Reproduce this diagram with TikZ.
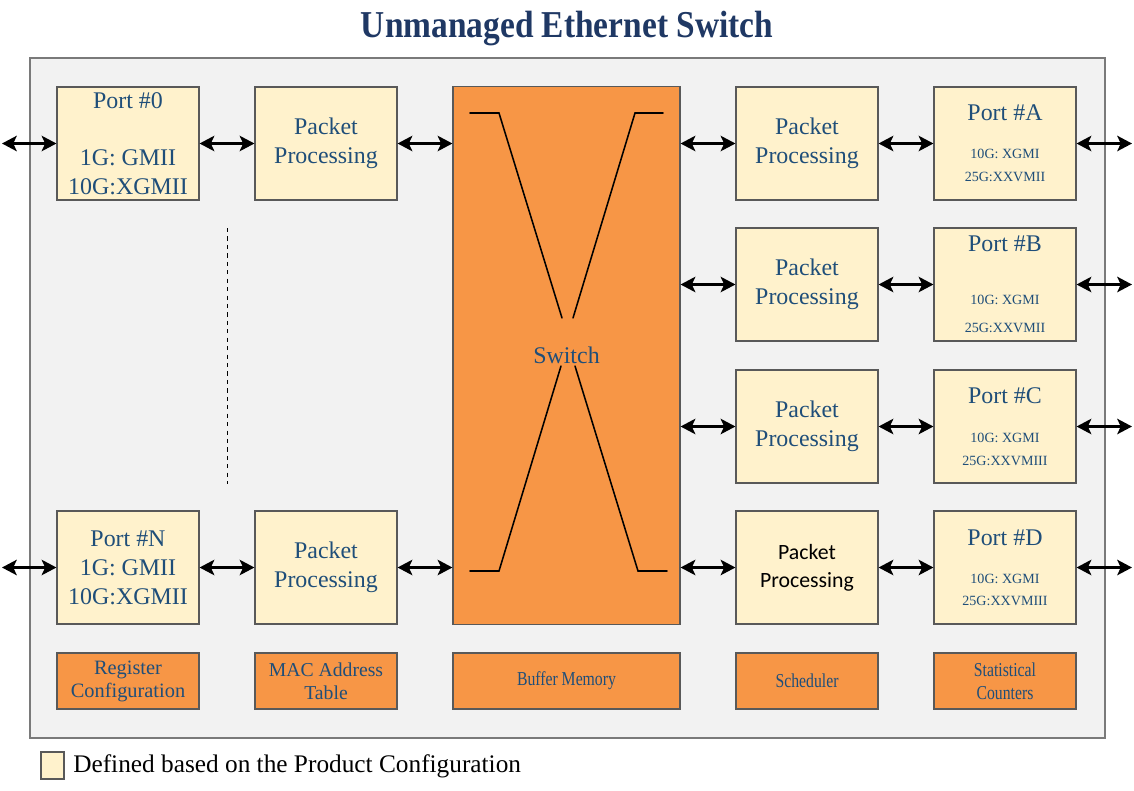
\documentclass[tikz,border=0pt]{standalone}
\usepackage{fontspec}
\usepackage{graphicx}
\setmainfont{Liberation Serif}
\newfontfamily\calibrifont{Carlito}
\usetikzlibrary{arrows.meta,positioning}
\definecolor{cfgfill}{HTML}{FFF2CC}
\definecolor{blockorange}{HTML}{F79646}
\definecolor{panelgray}{HTML}{F2F2F2}
\definecolor{edgegray}{HTML}{595959}
\definecolor{textblue}{HTML}{1F4E79}
\definecolor{titleblue}{HTML}{1F3864}
\newcommand{\smallports}{\fontsize{10}{12}\selectfont}
\newcommand{\narrowtext}[1]{\scalebox{0.8}[1]{#1}}
\tikzset{
  cfgbox/.style={draw=edgegray, line width=0.8pt, fill=cfgfill, minimum width=3.55cm, minimum height=2.825cm,
    inner sep=0pt, align=center, text=textblue, font=\fontsize{17}{20.6}\selectfont},
  resbox/.style={draw=edgegray, line width=0.8pt, fill=blockorange, minimum width=3.55cm, minimum height=1.4cm,
    inner sep=0pt, align=center, text=textblue, font=\fontsize{14}{16.4}\selectfont},
  biarrow/.style={{Stealth[length=10.5pt,width=11pt,inset=2.5pt]}-{Stealth[length=10.5pt,width=11pt,inset=2.5pt]}, line width=1.6pt},
  xline/.style={line width=1.1pt, line cap=round}
}

\begin{document}
\begin{tikzpicture}[x=0.025cm, y=-0.025cm]
	\useasboundingbox (0,0) rectangle (1134,791);
	
	\node[font=\fontsize{27}{30}\selectfont\bfseries, text=titleblue] (title) at (567,29) {\scalebox{0.88}[1]{Unmanaged Ethernet Switch}};
	\draw[draw=edgegray!80, line width=1pt, fill=panelgray] (30,58) rectangle (1105,738);
	
	% left side
	\node[cfgbox] (p0) at (128,143.5) {Port \#0\\[20pt]1G: GMII\\10G:XGMII};
	\node[cfgbox] (pp0) at (326,143.5) {Packet\\Processing};
	\node[cfgbox] (pN) at (128,567.5) {Port \#N\\1G: GMII\\10G:XGMII};
	\node[cfgbox] (ppN) at (326,567.5) {Packet\\Processing};
	\draw[dashed, line width=0.6pt] (227,228) -- (227,484);
	
	% switch fabric
	\node[draw=edgegray, line width=0.8pt, fill=blockorange, minimum width=5.675cm, minimum height=13.425cm,
		text=textblue, font=\fontsize{17}{20.6}\selectfont] (sw) at (566.5,355.5) {Switch};
	\draw[xline] (470,113) -- (499,113) -- (562,318);
	\draw[xline] (663,113) -- (635,113) -- (573,318);
	\draw[xline] (470,571) -- (499,571) -- (561,366);
	\draw[xline] (667,571) -- (638,571) -- (575,366);
	
	% right side
	\node[cfgbox] (ppA) at (807,143.5) {Packet\\Processing};
	\node[cfgbox] (ppB) at (807,284.5) {Packet\\Processing};
	\node[cfgbox] (ppC) at (807,426.5) {Packet\\Processing};
	\node[cfgbox, text=black, font=\calibrifont\fontsize{15.5}{20}\selectfont] (ppD) at (807,567.5) {Packet\\Processing};
	\node[cfgbox] (pA) at (1005,143.5) {Port \#A\\[6.3pt]{\smallports 10G: XGMI}\\[-4.4pt]{\smallports 25G:XXVMII}};
	\node[cfgbox] (pB) at (1005,284.5) {Port \#B\\[17pt]{\smallports 10G: XGMI}\\[-0.8pt]{\smallports 25G:XXVMII}};
	\node[cfgbox] (pC) at (1005,426.5) {Port \#C\\[7pt]{\smallports 10G: XGMI}\\[-4.4pt]{\smallports 25G:XXVMIII}};
	\node[cfgbox] (pD) at (1005,567.5) {Port \#D\\[6.3pt]{\smallports 10G: XGMI}\\[-5pt]{\smallports 25G:XXVMIII}};
	
	% resources
	\node[resbox, font=\fontsize{14.5}{16.4}\selectfont] (reg) at (128,681) {Register\\Configuration};
	\node[resbox] (mac) at (326,681) {MAC Address\\Table};
	\node[resbox, minimum width=5.675cm] (buf) at (566.5,681) {\narrowtext{Buffer Memory}};
	\node[resbox] (sched) at (807,681) {\narrowtext{Scheduler}};
	\node[resbox] (stat) at (1005,681) {\narrowtext{Statistical}\\\narrowtext{Counters}};
	
	% connections
	\coordinate (in0) at (2,143.5);
	\coordinate (inN) at (2,567.5);
	\coordinate (outA) at (1132,143.5);
	\coordinate (outB) at (1132,284.5);
	\coordinate (outC) at (1132,426.5);
	\coordinate (outD) at (1132,567.5);
	\draw[biarrow] (in0) -- (p0);
	\draw[biarrow] (p0) -- (pp0);
	\draw[biarrow] (pp0) -- (pp0 -| sw.west);
	\draw[biarrow] (inN) -- (pN);
	\draw[biarrow] (pN) -- (ppN);
	\draw[biarrow] (ppN) -- (ppN -| sw.west);
	\foreach \row in {A,B,C,D} {
		\draw[biarrow] (pp\row -| sw.east) -- (pp\row);
		\draw[biarrow] (pp\row) -- (p\row);
		\draw[biarrow] (p\row) -- (out\row);
	}
	
	% legend
	\node[draw=edgegray, line width=0.8pt, fill=cfgfill, minimum width=0.575cm, minimum height=0.675cm, inner sep=0pt] (key) at (52.5,765.5) {};
	\node[anchor=west, font=\fontsize{18}{20}\selectfont, inner sep=0pt] (keytext) at (73,766) {Defined based on the Product Configuration};
\end{tikzpicture}
\end{document}
